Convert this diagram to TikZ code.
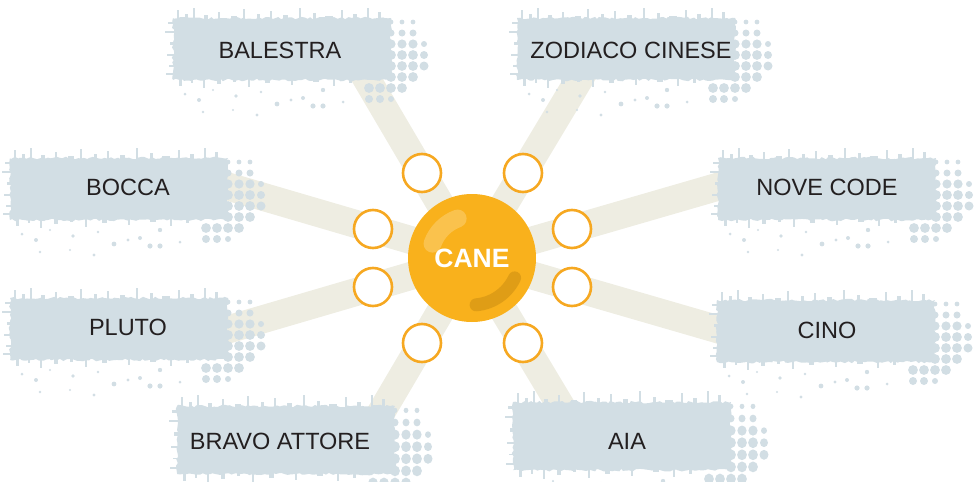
\documentclass[tikz,border=0pt]{standalone}
\usepackage{fontspec}
\setmainfont{Liberation Sans}
\usetikzlibrary{calc,decorations.pathmorphing}
\pgfdeclarelayer{beams}\pgfdeclarelayer{boxes}
\pgfsetlayers{beams,boxes,main}
\definecolor{boxc}{HTML}{D2DEE4}
\definecolor{beamc}{HTML}{EEEDE2}
\definecolor{orangec}{HTML}{F9B11C}
\definecolor{ringc}{HTML}{F6A821}
\definecolor{darkc}{HTML}{C68A12}
\definecolor{txtc}{HTML}{231F20}
\tikzset{
 boxtext/.style={text=txtc, font=\fontsize{23.5}{28}\selectfont, inner sep=0pt},
 ringnode/.style={circle, draw=ringc, line width=2.6pt, fill=white, minimum size=38pt, inner sep=0pt},
 ballnode/.style={circle, fill=orangec, minimum size=128pt, inner sep=0pt, text=white,
   font=\bfseries\fontsize{26.5}{30}\selectfont,
   path picture={
     \draw[white, opacity=0.22, line width=18pt, line cap=round]
       ($(path picture bounding box.center)+(110:42pt)$) arc[start angle=110, end angle=160, radius=42pt];
     \draw[darkc, opacity=0.5, line width=13pt, line cap=round]
       ($(path picture bounding box.center)+(275:47pt)$) arc[start angle=275, end angle=335, radius=47pt];
   }},
 beam/.style={beamc, line width=28pt},
 grunge/.pic={
   \fill[boxc, decorate, decoration={random steps, segment length=3pt, amplitude=1.3pt}] (0,0) rectangle (218,62);
   \foreach \a/\h/\w in {4/10/2, 12/6/3, 20/12/1.5, 31/5/4, 45/8/2, 58/4/6, 70/11/1.5, 84/6/3, 97/9/2, 110/5/5, 126/12/1.5, 140/7/3, 152/4/8, 168/10/2, 180/6/4, 194/12/1.5, 205/8/3}
     \fill[boxc] (\a,2) rectangle ++(\w,-\h);
   \foreach \b/\l/\t in {4/7/2, 13/10/1.5, 24/5/3, 36/8/2, 47/6/1.5, 55/9/2}
     \fill[boxc] (2,\b) rectangle ++(-\l,\t);
   \foreach \a/\h/\w in {6/8/3, 18/5/2, 30/10/1.5, 44/6/4, 60/4/3, 75/9/2, 92/5/5, 118/7/2, 140/4/6, 160/8/2, 176/5/3}
     \fill[boxc] (\a,60) rectangle ++(\w,\h);
   \foreach \px/\py/\rr in {12/76/1.5, 26/82/2, 40/72/1.2, 63/78/1.8, 88/74/1.4, 104/86/2.4, 118/82/1.6, 130/80/2, 150/72/2.2, 170/84/1.5, 60/92/1.2, 30/94/1.4, 84/97/1.6, 140/88/2.6, 150/88/2.6}
     \fill[boxc] (\px,\py) circle (\rr pt);
   \foreach \c in {0,...,2}
     \foreach \r in {0,...,5} {
       \pgfmathsetmacro\rad{min(4.9,2.4+1.1*\r)}
       \fill[boxc] (218+\c*11, 4+\r*11) circle (\rad pt);
     }
   \foreach \px/\py/\rr in {251/26/3, 251/37/4, 251/48/4.5, 196/70/4.9, 207/70/4.9, 218/70/4.9, 229/70/4.9, 196/81/4, 207/81/4, 218/81/3}
     \fill[boxc] (\px,\py) circle (\rr pt);
 }
}
\begin{document}
\begin{tikzpicture}[x=1pt,y=-1pt]
\useasboundingbox (0,0) rectangle (978,482);
\pgfmathsetseed{42}
\begin{pgfonlayer}{boxes}
\pic at (173,18) {grunge};
\pic at (517,18) {grunge};
\pic at (10,158) {grunge};
\pic at (718,158) {grunge};
\pic at (10,298) {grunge};
\pic at (717,300) {grunge};
\pic[yscale=1.1] at (177,406) {grunge};
\pic[yscale=1.1] at (513,402) {grunge};
\end{pgfonlayer}
\node[boxtext] (balestra) at (280,50) {BALESTRA};
\node[boxtext] (zodiaco) at (631,50) {ZODIACO CINESE};
\node[boxtext] (bocca) at (128,187) {BOCCA};
\node[boxtext] (nove) at (827,187) {NOVE CODE};
\node[boxtext] (pluto) at (128,327) {PLUTO};
\node[boxtext] (cino) at (827,330) {CINO};
\node[boxtext] (bravo) at (280,441) {BRAVO ATTORE};
\node[boxtext] (aia) at (627,441) {AIA};
\node[ballnode] (cane) at (472,258) {CANE};
\node[ringnode] (rNW) at (422,173) {};
\node[ringnode] (rNE) at (523,173) {};
\node[ringnode] (rWN) at (373,229) {};
\node[ringnode] (rWS) at (373,287) {};
\node[ringnode] (rEN) at (572,229) {};
\node[ringnode] (rES) at (572,287) {};
\node[ringnode] (rSW) at (422,343) {};
\node[ringnode] (rSE) at (523,343) {};
\begin{pgfonlayer}{beams}
\draw[beam] (cane.center) -- ($(cane.center)!2.4!(rNW.center)$);
\draw[beam] (cane.center) -- ($(cane.center)!2.4!(rNE.center)$);
\draw[beam] (cane.center) -- ($(cane.center)!2.15!(rSW.center)$);
\draw[beam] (cane.center) -- ($(cane.center)!2.15!(rSE.center)$);
\draw[beam] (cane.center) -- ($(cane.center)!2.7!(rWN.center)$);
\draw[beam] (cane.center) -- ($(cane.center)!2.7!(rWS.center)$);
\draw[beam] (cane.center) -- ($(cane.center)!2.7!(rEN.center)$);
\draw[beam] (cane.center) -- ($(cane.center)!2.7!(rES.center)$);
\end{pgfonlayer}
\end{tikzpicture}
\end{document}
